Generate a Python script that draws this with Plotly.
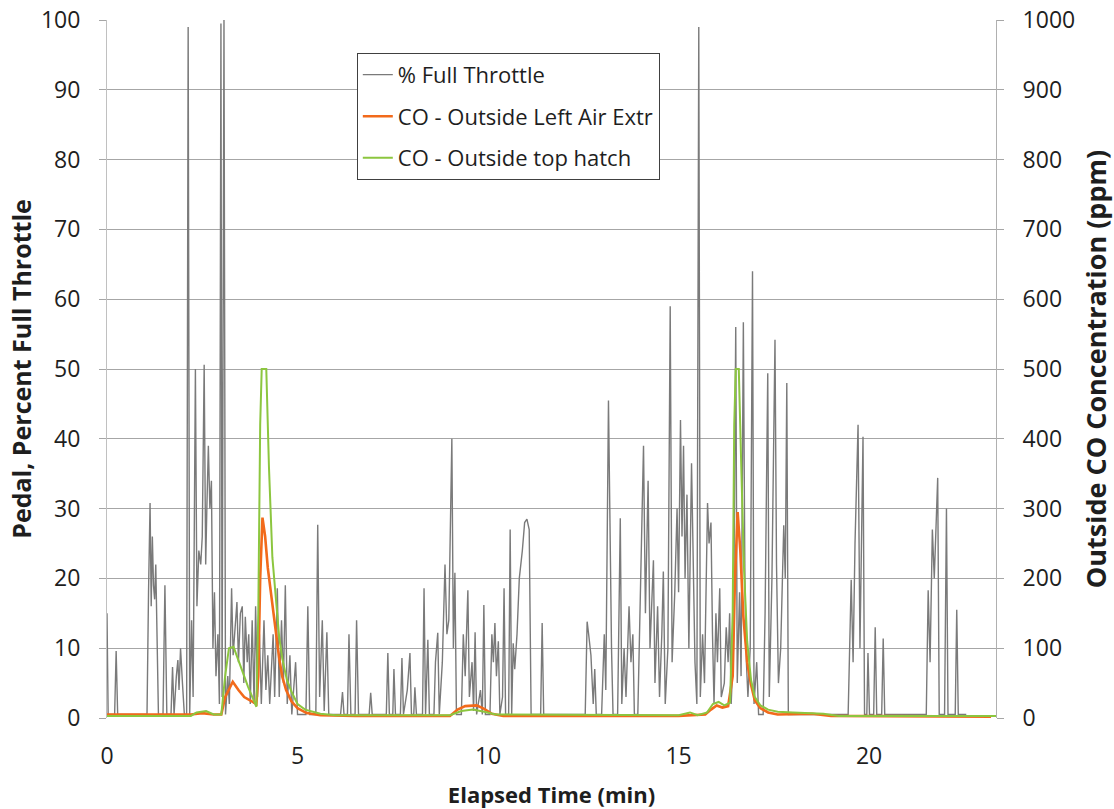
import plotly.graph_objects as go

# ---- Throttle (% full throttle) ----
throttle_t = [0.00, 0.03, 0.20, 0.24, 0.28, 1.05, 1.09, 1.13, 1.16, 1.19, 1.22, 1.25, 1.28, 1.31, 1.35, 1.47, 1.52, 1.57,
              1.68, 1.72, 1.76, 1.82, 1.86, 1.89, 1.93, 1.98, 2.03, 2.09, 2.13, 2.17, 2.22, 2.26, 2.32, 2.36, 2.41, 2.46,
              2.50, 2.55, 2.59, 2.62, 2.66, 2.70, 2.74, 2.78, 2.82, 2.86, 2.91, 2.95, 2.99, 3.02, 3.07, 3.11, 3.17, 3.21,
              3.27, 3.31, 3.36, 3.41, 3.45, 3.50, 3.55, 3.59, 3.63, 3.68, 3.72, 3.76, 3.81, 3.86, 3.90, 3.95, 4.00, 4.05,
              4.12, 4.17, 4.22, 4.27, 4.36, 4.40, 4.47, 4.52, 4.58, 4.63, 4.68, 4.73, 4.80, 4.85, 4.95, 5.00, 5.22, 5.27,
              5.32, 5.48, 5.53, 5.58, 5.65, 5.70, 5.77, 5.82, 6.13, 6.18, 6.22, 6.31, 6.35, 6.40, 6.51, 6.55, 6.60, 6.88,
              6.92, 6.96, 7.33, 7.37, 7.41, 7.50, 7.53, 7.57, 7.70, 7.74, 7.78, 7.88, 7.95, 7.99, 8.05, 8.08, 8.12, 8.28,
              8.32, 8.36, 8.42, 8.46, 8.58, 8.62, 8.68, 8.72, 8.80, 8.87, 8.92, 8.97, 9.05, 9.09, 9.13, 9.17, 9.30, 9.35,
              9.40, 9.47, 9.51, 9.58, 9.62, 9.66, 9.70, 9.80, 9.85, 9.89, 9.93, 10.05, 10.10, 10.14, 10.18, 10.22, 10.27,
              10.31, 10.38, 10.42, 10.46, 10.54, 10.58, 10.62, 10.66, 10.70, 10.76, 10.82, 10.90, 10.96, 11.02, 11.08,
              11.13, 11.38, 11.42, 11.46, 12.55, 12.60, 12.64, 12.70, 12.76, 12.80, 12.84, 12.98, 13.05, 13.09, 13.16,
              13.20, 13.24, 13.28, 13.40, 13.47, 13.51, 13.57, 13.62, 13.70, 13.75, 13.80, 13.84, 13.93, 14.00, 14.08,
              14.13, 14.20, 14.25, 14.30, 14.34, 14.38, 14.45, 14.50, 14.56, 14.60, 14.65, 14.72, 14.78, 14.83, 14.90,
              14.96, 15.00, 15.05, 15.09, 15.13, 15.17, 15.22, 15.27, 15.34, 15.38, 15.43, 15.48, 15.53, 15.57, 15.63,
              15.68, 15.73, 15.76, 15.80, 15.85, 15.89, 15.93, 15.98, 16.02, 16.08, 16.12, 16.20, 16.25, 16.30, 16.34,
              16.38, 16.44, 16.50, 16.54, 16.60, 16.64, 16.70, 16.74, 16.78, 16.82, 16.88, 16.94, 16.98, 17.05, 17.10,
              17.22, 17.27, 17.34, 17.38, 17.45, 17.53, 17.57, 17.62, 17.68, 17.76, 17.80, 17.84, 17.88, 19.45, 19.53,
              19.58, 19.63, 19.71, 19.76, 19.84, 19.88, 19.94, 19.97, 20.01, 20.12, 20.16, 20.20, 20.33, 20.37, 20.41,
              21.50, 21.55, 21.60, 21.66, 21.71, 21.80, 21.84, 21.98, 22.03, 22.07, 22.26, 22.30, 22.34, 22.55]
throttle_pct = [15, 0.5, 0.5, 9.6, 0.5, 0.5, 18, 30.8, 16, 26, 19, 17, 22, 10, 0.5, 0.5, 19, 0.5,
                0.5, 7.3, 0.5, 6, 8.3, 4, 10, 5, 0.5, 0.5, 99, 0.5, 14, 3, 50, 16, 24, 22,
                26, 50.6, 22, 30, 39, 30, 34, 10, 18, 6, 12, 2, 99.5, 3, 100, 0.5, 6, 2,
                18.6, 9, 13, 16.6, 8, 15, 16, 5, 14.5, 8, 12, 2, 14, 2, 16, 3, 12, 2,
                14, 4, 9, 2, 12, 3, 18.6, 3, 14, 5, 19, 2, 9, 0.5, 8, 0.5, 0.5, 16,
                0.5, 0.5, 27.7, 3, 14, 1, 12.3, 0.5, 0.5, 3.7, 0.5, 0.5, 12, 0.5, 0.5, 14, 0.5, 0.5,
                3.6, 0.5, 0.5, 9.3, 0.5, 0.5, 7, 0.5, 0.5, 8.6, 0.5, 4, 9.3, 0.5, 0.5, 4.4, 0.5, 0.5,
                18.6, 0.5, 11.2, 0.5, 0.5, 8, 12.2, 0.5, 8, 22, 12, 14, 40, 10, 20.8, 0.5, 0.5, 12,
                6, 18.3, 3, 8, 1, 12.3, 0.5, 4, 0.5, 16.2, 0.5, 0.5, 12, 8, 13.6, 6, 11,
                0.5, 3, 18.6, 0.5, 0.5, 27, 0.5, 10.7, 7, 12, 20, 24, 28, 28.5, 27,
                0.5, 0.5, 13.6, 0.5, 0.5, 13.8, 12, 9, 2, 7, 0.5, 0.5, 12, 4, 45.5,
                24, 10, 0.5, 0.5, 28.6, 2, 10, 3, 16, 8, 12, 0.5, 0.5, 20, 39,
                15, 34, 10, 18, 22.6, 5, 16, 3, 12, 21, 2, 10, 59, 8, 18,
                30, 18, 42.7, 26, 39, 20, 32, 10, 36.5, 24, 8, 2, 99, 3, 12,
                5, 20, 30.8, 25, 28, 12, 2, 15, 8, 18.6, 3, 5, 13, 8, 15,
                2, 10, 56, 5, 18, 6, 56.7, 20, 8, 3, 10, 64, 2, 8, 0.5,
                0.5, 15, 49.4, 3, 20, 54.2, 22, 5, 10, 27.6, 20, 48, 0.5, 0.5, 19.8,
                8, 25, 42, 10, 40.3, 0.5, 0.5, 9.3, 0.5, 0.5, 13, 0.5, 0.5, 11.4, 0.5,
                0.5, 18.3, 8, 27, 20, 34.4, 0.5, 0.5, 30, 0.5, 0.5, 15.5, 0.5, 0.5]

# ---- CO - Outside Left Air Extr (ppm) ----
co_left_t = [0.0, 2.2, 2.5, 2.8, 3.0, 3.1, 3.3, 3.45, 3.6, 3.75, 3.92, 3.97, 4.02, 4.08, 4.15, 4.22, 4.28, 4.36,
             4.44, 4.52, 4.6, 4.7, 4.84, 5.0, 5.24, 5.6, 6.5, 9.0, 9.2, 9.4, 9.7, 9.9, 10.1, 10.4, 15.0, 15.7,
             15.85, 16.0, 16.15, 16.3, 16.42, 16.48, 16.55, 16.62, 16.7, 16.8, 16.9, 17.0, 17.15, 17.35, 17.6,
             18.5, 19.0, 23.2]
co_left_ppm = [5, 5, 7, 5, 5, 30, 52, 40, 30, 25, 20, 60, 200, 287, 260, 215, 190, 150,
               118, 85, 59, 40, 24, 14, 7, 4, 3, 3, 12, 17, 18, 13, 6, 3, 3, 5,
               12, 18, 15, 17, 60, 200, 295, 240, 145, 80, 48, 25, 14, 8, 5,
               6, 3, 2]

# ---- CO - Outside top hatch (ppm) ----
co_top_t = [0.0, 2.2, 2.35, 2.6, 2.8, 3.0, 3.1, 3.2, 3.32, 3.5, 3.7, 3.92, 3.97, 4.02, 4.06, 4.18, 4.25, 4.34,
            4.44, 4.52, 4.6, 4.72, 4.84, 5.0, 5.2, 5.6, 6.0, 9.0, 9.3, 9.6, 9.9, 10.2, 15.0, 15.3, 15.5, 15.75,
            15.9, 16.05, 16.2, 16.35, 16.42, 16.46, 16.5, 16.58, 16.65, 16.72, 16.8, 16.9, 17.0, 17.15, 17.35,
            17.6, 18.0, 18.8, 19.2, 23.33]
co_top_ppm = [3, 3, 8, 10, 5, 5, 60, 100, 102, 75, 45, 16, 150, 420, 500, 500, 360, 230,
              160, 115, 85, 55, 38, 20, 12, 6, 4, 4, 10, 12, 9, 5, 4, 8, 4, 8,
              20, 23, 18, 22, 150, 420, 500, 500, 350, 210, 110, 55, 30, 18, 12,
              9, 8, 6, 3, 3]

FONT = "Open Sans"
GRID = "#a6a6a6"
TXT = "#1e1e1e"

fig = go.Figure()
fig.add_trace(go.Scatter(x=throttle_t, y=throttle_pct, name="% Full Throttle", mode="lines",
                         line=dict(color="#7a7a7a", width=1.4), legendgroup="a"))
fig.add_trace(go.Scatter(x=co_left_t, y=co_left_ppm, name="CO - Outside Left Air Extr", mode="lines",
                         line=dict(color="#f26a1b", width=2.6), yaxis="y2", legendgroup="b"))
fig.add_trace(go.Scatter(x=co_top_t, y=co_top_ppm, name="CO - Outside top hatch", mode="lines",
                         line=dict(color="#8cc63f", width=2), yaxis="y2", legendgroup="c"))

fig.update_layout(
    width=1114, height=809,
    margin=dict(l=107, r=118, t=20, b=91),
    paper_bgcolor="white", plot_bgcolor="white",
    font=dict(family=FONT, color=TXT),
    showlegend=True,
    legend=dict(x=0.281, y=0.953, xanchor="left", yanchor="top",
                bgcolor="white", bordercolor="#404040", borderwidth=1,
                font=dict(size=22, family=FONT, color=TXT),
                traceorder="grouped", tracegroupgap=10),
    xaxis=dict(range=[0, 23.33], tickvals=[0, 5, 10, 15, 20], showgrid=False, zeroline=False,
               showline=False, ticks="", ticklabelstandoff=22, automargin=False,
               tickfont=dict(size=23, family=FONT, color=TXT),
               title=dict(text="<b>Elapsed Time (min)</b>", font=dict(size=22, family=FONT, color=TXT),
                          standoff=20)),
    yaxis=dict(range=[0, 100], dtick=10, showgrid=True, gridcolor=GRID, gridwidth=1, zeroline=False,
               showline=True, linecolor="#c0c0c0", linewidth=1, automargin=False,
               ticks="outside", ticklen=7, tickcolor=GRID, ticklabelstandoff=14,
               tickfont=dict(size=23, family=FONT, color=TXT),
               title=dict(text="<b>Pedal, Percent Full Throttle</b>", font=dict(size=25, family=FONT, color=TXT),
                          standoff=2)),
    yaxis2=dict(range=[0, 1000], dtick=100, overlaying="y", side="right", showgrid=False, zeroline=False,
                showline=True, linecolor="#b0b0b0", linewidth=1, automargin=False,
                ticks="outside", ticklen=7, tickcolor=GRID, ticklabelstandoff=14,
                tickfont=dict(size=23, family=FONT, color=TXT),
                title=dict(text="<b>Outside CO Concentration (ppm)</b>", font=dict(size=27, family=FONT, color=TXT),
                           standoff=12)),
)

fig.write_html("out.html")
